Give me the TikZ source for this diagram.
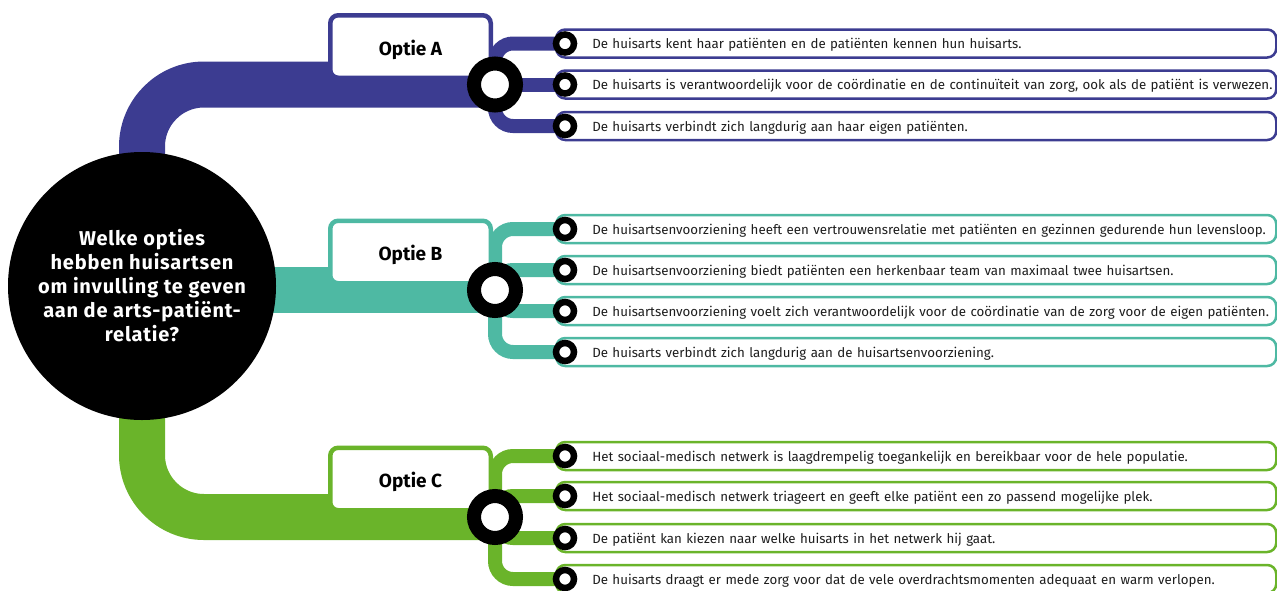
\documentclass[tikz,border=0pt]{standalone}
\usepackage{fontspec}
\setmainfont{Fira Sans}
\usetikzlibrary{positioning}
\definecolor{colA}{RGB}{60,60,145}
\definecolor{colB}{RGB}{78,185,163}
\definecolor{colC}{RGB}{106,180,42}
\definecolor{ink}{RGB}{30,30,30}
\pgfdeclarelayer{background}
\pgfsetlayers{background,main}
\tikzset{
  trunk/.style={line width=46pt, rounded corners=62pt},
  branch/.style={line width=14pt, rounded corners=18pt},
  question/.style={circle, fill=black, text=white, minimum size=268pt, inner sep=0pt, align=center,
    font=\bfseries\fontsize{20}{24}\selectfont\addfontfeature{LetterSpace=4}},
  hub/.style={circle, draw=black, fill=white, line width=14pt, minimum size=42pt, inner sep=0pt},
  dot/.style={circle, draw=black, fill=white, line width=6.5pt, minimum size=18pt, inner sep=0pt},
  optbox/.style={draw, fill=white, line width=4.5pt, rounded corners=8pt, minimum width=160.5pt,
    minimum height=62.5pt, text height=17pt, text depth=0pt, inner sep=0pt,
    font=\bfseries\fontsize{19}{22}\selectfont},
  stbox/.style={draw, fill=white, text=ink, line width=2.5pt, rounded corners=9pt, anchor=west,
    minimum width=720pt, minimum height=28pt, text width=720pt, inner xsep=0pt, inner ysep=0pt,
    text height=10pt, text depth=0pt,
    align=left, font=\fontsize{13.3}{15}\selectfont, execute at begin node=\hspace*{36pt}},
}
\begin{document}
\begin{tikzpicture}[x=1pt, y=-1pt]
  \useasboundingbox (0,0) rectangle (1277,590);
  \node[question] (vraag) at (142,286) {Welke opties\\hebben huisartsen\\om invulling te geven\\aan de arts-patiënt-\\relatie?};

  \node[optbox, draw=colA] (optA) at (410.5,46.5) {Optie A};
  \node[optbox, draw=colB] (optB) at (410.5,252) {Optie B};
  \node[optbox, draw=colC] (optC) at (410.5,479) {Optie C};

  \node[stbox, draw=colA] (sA1) at (555,43.5) {De huisarts kent haar patiënten en de patiënten kennen hun huisarts.};
  \node[stbox, draw=colA] (sA2) at (555,84.5) {De huisarts is verantwoordelijk voor de coördinatie en de continuïteit van zorg, ook als de patiënt is verwezen.};
  \node[stbox, draw=colA] (sA3) at (555,126) {De huisarts verbindt zich langdurig aan haar eigen patiënten.};
  \node[stbox, draw=colB] (sB1) at (555,229) {De huisartsenvoorziening heeft een vertrouwensrelatie met patiënten en gezinnen gedurende hun levensloop.};
  \node[stbox, draw=colB] (sB2) at (555,270) {De huisartsenvoorziening biedt patiënten een herkenbaar team van maximaal twee huisartsen.};
  \node[stbox, draw=colB] (sB3) at (555,311) {De huisartsenvoorziening voelt zich verantwoordelijk voor de coördinatie van de zorg voor de eigen patiënten.};
  \node[stbox, draw=colB] (sB4) at (555,352) {De huisarts verbindt zich langdurig aan de huisartsenvoorziening.};
  \node[stbox, draw=colC] (sC1) at (555,456) {Het sociaal-medisch netwerk is laagdrempelig toegankelijk en bereikbaar voor de hele populatie.};
  \node[stbox, draw=colC] (sC2) at (555,496) {Het sociaal-medisch netwerk triageert en geeft elke patiënt een zo passend mogelijke plek.};
  \node[stbox, draw=colC] (sC3) at (555,538) {De patiënt kan kiezen naar welke huisarts in het netwerk hij gaat.};
  \node[stbox, draw=colC] (sC4) at (555,579) {De huisarts draagt er mede zorg voor dat de vele overdrachtsmomenten adequaat en warm verlopen.};

  \draw
    (565,43.5) node[dot] (a1){}
    (565,84.5) node[dot] (a2){}
    (565,126) node[dot] (a3){}
    (565,229) node[dot] (b1){}
    (565,270) node[dot] (b2){}
    (565,311) node[dot] (b3){}
    (565,352) node[dot] (b4){}
    (565,456) node[dot] (c1){}
    (565,496) node[dot] (c2){}
    (565,538) node[dot] (c3){}
    (565,579) node[dot] (c4){};

  \node[hub] (hubA) at (495,84.5) {};
  \node[hub] (hubB) at (495,290) {};
  \node[hub] (hubC) at (495,517) {};

  \begin{pgfonlayer}{background}
    \draw[trunk, colA] (vraag.center) |- (hubA.center);
    \draw[trunk, colB] (vraag.center |- hubB.center) -- (hubB.center);
    \draw[trunk, colC] (vraag.center) |- (hubC.center);
    \begin{scope}[branch, colA]
      \draw (hubA.center) |- (a1.center);
      \draw (hubA.center) -- (a2.center);
      \draw (hubA.center) |- (a3.center);
    \end{scope}
    \begin{scope}[branch, colB]
      \draw (hubB.center) |- (b1.center);
      \draw (hubB.center) |- (b2.center);
      \draw (hubB.center) |- (b3.center);
      \draw (hubB.center) |- (b4.center);
    \end{scope}
    \begin{scope}[branch, colC]
      \draw (hubC.center) |- (c1.center);
      \draw (hubC.center) |- (c2.center);
      \draw (hubC.center) |- (c3.center);
      \draw (hubC.center) |- (c4.center);
    \end{scope}
  \end{pgfonlayer}
\end{tikzpicture}
\end{document}
